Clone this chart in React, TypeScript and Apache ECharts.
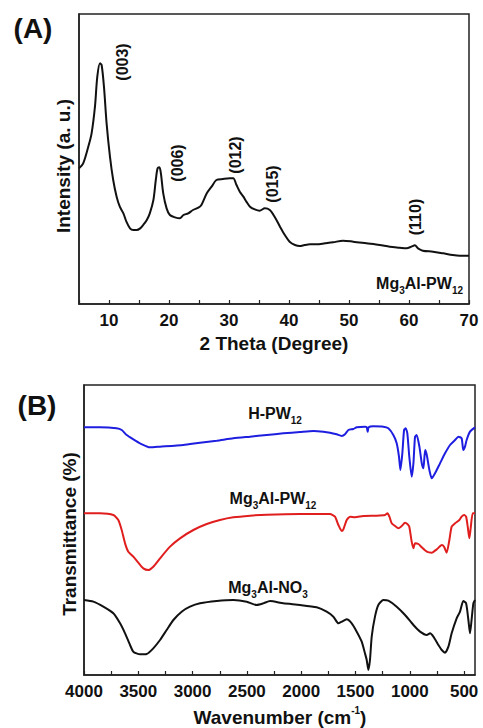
import React, { useEffect, useRef } from "react";
import * as echarts from "echarts";

// ---- Panel A: XRD of Mg3Al-PW12 (2θ, intensity a.u.) ----
const xrdTheta = [5, 5.7, 6.55, 7.1, 7.66, 8.05, 8.5, 8.77, 9.16, 9.6, 10.16, 10.7, 11.27, 11.8, 12.4, 12.9, 13.5, 14.05, 14.6, 15.2, 15.7, 16.3, 16.8, 17.4, 17.8, 18.1, 18.4, 18.65, 19.04, 19.6, 20.15, 21, 21.8, 22.4, 23.2, 24.0, 24.9, 25.4, 26.3, 27.1, 27.9, 29.0, 30.1, 30.7, 31.25, 31.8, 32.4, 32.9, 33.5, 34.3, 35.1, 35.97, 36.8, 37.6, 38.5, 39.3, 40.1, 41.0, 41.8, 42.6, 43.5, 44.6, 46.0, 47.35, 49.0, 50.7, 52.9, 55.1, 56.8, 58.45, 59.6, 60.4, 60.98, 61.5, 62.3, 64.0, 65.7, 67.3, 68.45, 70];
const xrdIntensity = [407, 422, 472, 512, 592, 682, 722, 717, 652, 542, 442, 372, 322, 292, 272, 247, 227, 222, 222, 227, 237, 252, 272, 312, 372, 407, 410, 392, 332, 287, 267, 260, 257, 267, 272, 282, 289, 297, 332, 352, 372, 375, 377, 377, 357, 337, 322, 307, 292, 284, 280, 287, 282, 262, 232, 207, 187, 177, 174, 177, 179, 179, 182, 185, 190, 187, 182, 177, 172, 169, 167, 172, 176, 167, 160, 157, 152, 147, 145, 145];
const xrdTickLabels = [10, 20, 30, 40, 50, 60, 70];
const xrdTicks = [5, 10, 15, 20, 25, 30, 35, 40, 45, 50, 55, 60, 65, 70];
const peakLabels = ["(003)", "(006)", "(012)", "(015)", "(110)"];

// ---- Panel B: FTIR (wavenumber cm-1, transmittance) ----
const hpwWave = [4000, 3853, 3700, 3653, 3607, 3546, 3484, 3392, 3300, 3085, 2932, 2778, 2625, 2471, 2318, 2165, 2011, 1888, 1796, 1735, 1673, 1627, 1597, 1566, 1520, 1489, 1413, 1397, 1388, 1379, 1336, 1244, 1198, 1152, 1121, 1100, 1087, 1069, 1053, 1038, 1023, 1005, 983, 967, 952, 937, 912, 890, 875, 859, 844, 820, 798, 768, 722, 676, 630, 584, 553, 523, 508, 492, 477, 446, 400];
const hpwT = [743, 743, 740, 735, 720, 707, 695, 683, 685, 690, 697, 703, 710, 715, 720, 725, 729, 732, 730, 727, 722, 717, 722, 735, 738, 743, 745, 743, 730, 743, 746, 745, 740, 720, 695, 655, 615, 665, 735, 740, 725, 655, 595, 635, 715, 720, 685, 635, 620, 675, 660, 615, 590, 605, 635, 665, 690, 705, 715, 710, 675, 685, 705, 730, 743];

const ldhPwWave = [4000, 3853, 3730, 3684, 3653, 3622, 3592, 3546, 3500, 3454, 3408, 3362, 3300, 3208, 3116, 2993, 2870, 2748, 2625, 2471, 2318, 2011, 1735, 1689, 1658, 1627, 1612, 1581, 1550, 1505, 1428, 1305, 1228, 1206, 1188, 1167, 1136, 1106, 1075, 1044, 1023, 1005, 983, 967, 952, 921, 890, 844, 798, 752, 706, 685, 661, 636, 615, 584, 544, 523, 500, 482, 467, 452, 440, 421, 400];
const ldhPwT = [485, 485, 480, 465, 435, 395, 370, 355, 337, 320, 315, 325, 350, 385, 410, 435, 453, 465, 473, 478, 481, 483, 483, 475, 450, 432, 437, 465, 475, 473, 477, 478, 480, 485, 475, 455, 447, 440, 447, 457, 453, 445, 400, 380, 395, 393, 383, 370, 367, 377, 390, 385, 367, 405, 445, 455, 465, 475, 480, 475, 445, 410, 440, 485, 485];

const ldhNo3Wave = [4000, 3914, 3822, 3730, 3668, 3622, 3576, 3546, 3484, 3423, 3362, 3300, 3239, 3177, 3101, 3024, 2932, 2778, 2625, 2502, 2410, 2349, 2287, 2165, 2011, 1858, 1766, 1704, 1658, 1627, 1581, 1535, 1489, 1443, 1413, 1397, 1382, 1367, 1351, 1321, 1290, 1244, 1198, 1121, 1044, 967, 906, 844, 814, 783, 737, 706, 676, 645, 615, 569, 538, 508, 482, 461, 446, 430, 415, 400];
const ldhNo3T = [225, 220, 205, 185, 155, 125, 90, 70, 62, 63, 80, 105, 135, 165, 190, 205, 215, 222, 225, 220, 210, 215, 222, 215, 210, 203, 190, 175, 155, 160, 167, 155, 130, 100, 65, 45, 15, 45, 115, 175, 210, 225, 223, 205, 180, 150, 130, 120, 125, 115, 90, 75, 67, 85, 125, 170, 190, 222, 215, 165, 125, 170, 215, 225];

const ftirTickLabels = [4000, 3500, 3000, 2500, 2000, 1500, 1000, 500];
const ftirTicks = [4000, 3750, 3500, 3250, 3000, 2750, 2500, 2250, 2000, 1750, 1500, 1250, 1000, 750, 500];

const zip = (a: number[], b: number[]) => a.map((v, i) => [v, b[i]]);

const FONT = "'Liberation Sans', Arial, Helvetica, sans-serif";

export default function App() {
  const ref = useRef<HTMLDivElement>(null);
  useEffect(() => {
    if (!ref.current) return;
    const chart = echarts.init(ref.current, undefined, { renderer: "svg" });

    const baseAxisLabel = {
      color: "#111",
      fontSize: 17,
      fontWeight: "bold" as const,
      fontFamily: FONT,
      margin: 8,
      formatter: (v: number) => String(v),
    };
    const rt = (size: number) => ({
      m: { fontSize: size, fontWeight: "bold", fontFamily: FONT, fill: "#111", lineHeight: 24 },
      s: { fontSize: 10, fontWeight: "bold", fontFamily: FONT, fill: "#111", lineHeight: 10, verticalAlign: "bottom" },
      p: { fontSize: 10, fontWeight: "bold", fontFamily: FONT, fill: "#111", lineHeight: 10, verticalAlign: "top" },
    });

    const peakPos = [
      [122, 62],
      [177, 163],
      [235, 155],
      [272, 184],
      [415, 217],
    ];

    const textEl = (x: number, y: number, text: string, size: number, rotation = 0, align = "center") => ({
      type: "text",
      x,
      y,
      rotation,
      style: {
        text,
        fontSize: size,
        fontWeight: "bold",
        fontFamily: FONT,
        fill: "#111",
        textAlign: align,
        textVerticalAlign: "middle",
      },
    });

    const richEl = (x: number, y: number, text: string, size: number, align = "center") => ({
      type: "text",
      x,
      y,
      style: {
        text,
        rich: rt(size),
        textAlign: align,
        textVerticalAlign: "middle",
      },
    });

    chart.setOption({
      animation: false,
      backgroundColor: "#fff",
      grid: [
        { left: 79, top: 14, width: 390, height: 290, show: true, borderColor: "#222", borderWidth: 1.5, backgroundColor: "transparent" },
        { left: 84, top: 385, width: 391, height: 290, show: true, borderColor: "#222", borderWidth: 1.5, backgroundColor: "transparent" },
      ],
      xAxis: [
        {
          type: "value",
          gridIndex: 0,
          min: 5,
          max: 70,
          axisLine: { show: true, onZero: false, lineStyle: { color: "#222", width: 1.5 } },
          axisTick: { show: true, inside: true, length: 4, customValues: xrdTicks, lineStyle: { color: "#222", width: 1.2 } },
          axisLabel: { ...baseAxisLabel, customValues: xrdTickLabels },
          splitLine: { show: false },
        },
        {
          type: "value",
          gridIndex: 1,
          min: 400,
          max: 4000,
          inverse: true,
          axisLine: { show: true, onZero: false, lineStyle: { color: "#222", width: 1.5 } },
          axisTick: { show: true, inside: true, length: 4, customValues: ftirTicks, lineStyle: { color: "#222", width: 1.2 } },
          axisLabel: { ...baseAxisLabel, customValues: ftirTickLabels },
          splitLine: { show: false },
        },
      ],
      yAxis: [
        { type: "value", gridIndex: 0, min: 0, max: 870, axisLine: { show: true, lineStyle: { color: "#222", width: 1.5 } }, axisTick: { show: false }, axisLabel: { show: false }, splitLine: { show: false } },
        { type: "value", gridIndex: 1, min: 0, max: 870, axisLine: { show: true, lineStyle: { color: "#222", width: 1.5 } }, axisTick: { show: false }, axisLabel: { show: false }, splitLine: { show: false } },
      ],
      series: [
        { type: "line", name: "Mg3Al-PW12 XRD", xAxisIndex: 0, yAxisIndex: 0, data: zip(xrdTheta, xrdIntensity), showSymbol: false, smooth: 0.3, lineStyle: { color: "#111", width: 2 } },
        { type: "line", name: "H-PW12", xAxisIndex: 1, yAxisIndex: 1, data: zip(hpwWave, hpwT), showSymbol: false, smooth: 0.2, lineStyle: { color: "#1e1ee0", width: 2 } },
        { type: "line", name: "Mg3Al-PW12", xAxisIndex: 1, yAxisIndex: 1, data: zip(ldhPwWave, ldhPwT), showSymbol: false, smooth: 0.2, lineStyle: { color: "#e01e1e", width: 2 } },
        { type: "line", name: "Mg3Al-NO3", xAxisIndex: 1, yAxisIndex: 1, data: zip(ldhNo3Wave, ldhNo3T), showSymbol: false, smooth: 0.2, lineStyle: { color: "#111", width: 2 } },
      ],
      graphic: [
        textEl(33, 28, "(A)", 28),
        textEl(37, 405, "(B)", 28),
        textEl(63, 166, "Intensity (a. u.)", 19, Math.PI / 2),
        textEl(274, 343, "2 Theta (Degree)", 19),
        textEl(69, 534, "Transmittance (%)", 19, Math.PI / 2),
        richEl(280, 717, "{m|Wavenumber (cm}{p|-1}{m|)}", 19),
        ...peakLabels.map((t, i) => textEl(peakPos[i][0], peakPos[i][1], t, 16, Math.PI / 2)),
        richEl(463, 283, "{m|Mg}{s|3}{m|Al-PW}{s|12}", 16, "right"),
        richEl(275, 413, "{m|H-PW}{s|12}", 16),
        richEl(273, 498, "{m|Mg}{s|3}{m|Al-PW}{s|12}", 16),
        richEl(268, 587, "{m|Mg}{s|3}{m|Al-NO}{s|3}", 16),
      ],
    });
    return () => chart.dispose();
  }, []);
  return <div ref={ref} style={{ position: "absolute", left: 0, top: 0, width: 483, height: 728 }} />;
}
